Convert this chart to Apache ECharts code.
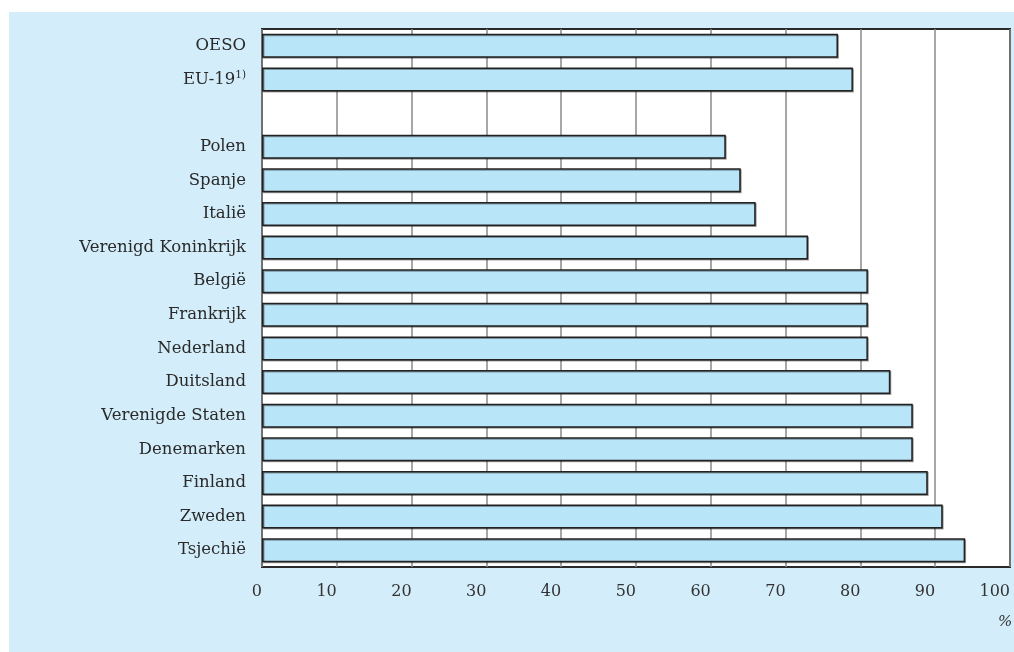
<!DOCTYPE html>
<html>
<head>
<meta charset="utf-8">
<script src="https://cdn.jsdelivr.net/npm/echarts@6/dist/echarts.min.js"></script>
<style>
html,body{margin:0;padding:0;background:#ffffff;}
#chart{width:1014px;height:652px;}
</style>
</head>
<body>
<div id="chart"></div>
<script>
const categories = ['OESO', 'EU-19', '', 'Polen', 'Spanje', 'Italië', 'Verenigd Koninkrijk', 'België', 'Frankrijk', 'Nederland', 'Duitsland', 'Verenigde Staten', 'Denemarken', 'Finland', 'Zweden', 'Tsjechië'];
const values = [77, 79, null, 62, 64, 66, 73, 81, 81, 81, 84, 87, 87, 89, 91, 94];
const xTicks = [0, 10, 20, 30, 40, 50, 60, 70, 80, 90, 100];
const unitLabel = '%';

const FONT = 'DejaVu Serif';
const chart = echarts.init(document.getElementById('chart'));
chart.setOption({
  animation: false,
  backgroundColor: '#ffffff',
  graphic: [
    { type: 'rect', left: 9, top: 12, z: -10, shape: { width: 1005, height: 640 }, style: { fill: '#d3eefa' } },
    { type: 'text', left: 998, top: 615, style: { text: unitLabel, font: 'italic 15px ' + FONT, fill: '#333' } }
  ],
  grid: {
    show: true, left: 262, right: 4, top: 29, bottom: 85,
    backgroundColor: '#ffffff', borderColor: '#2a2a2a', borderWidth: 2
  },
  xAxis: {
    type: 'value', min: xTicks[0], max: xTicks[xTicks.length - 1], interval: 10,
    axisLine: { show: false }, axisTick: { show: false },
    splitLine: { show: true, lineStyle: { color: '#8a8a8a', width: 1.5 } },
    axisLabel: { align: 'right', margin: 17, color: '#333', fontFamily: FONT, fontSize: 16 }
  },
  yAxis: {
    type: 'category', data: categories, inverse: true,
    axisLine: { show: false }, axisTick: { show: false }, splitLine: { show: false },
    axisLabel: {
      margin: 16, color: '#2a2a2a', fontFamily: FONT, fontSize: 16.5,
      formatter: v => v === 'EU-19' ? 'EU-19{sup|1)}' : v,
      rich: { sup: { fontFamily: FONT, fontSize: 10.5, verticalAlign: 'top', padding: [0, 0, 9, 0], color: '#2a2a2a' } }
    }
  },
  series: [{
    type: 'bar', data: values, barWidth: 24,
    itemStyle: {
      color: '#b9e5f8', borderColor: '#222', borderWidth: 1.5,
      shadowColor: 'rgba(0,0,0,0.35)', shadowOffsetX: 1, shadowOffsetY: 1, shadowBlur: 0
    }
  }]
});
</script>
</body>
</html>
